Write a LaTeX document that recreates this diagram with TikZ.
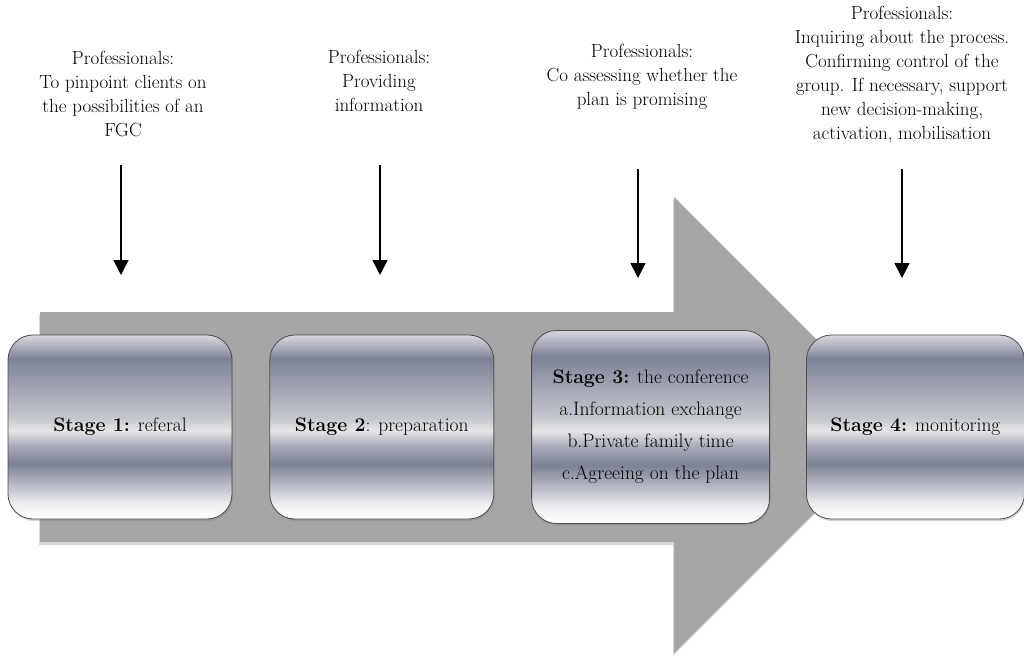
\documentclass[tikz,border=0pt]{standalone}
\usepackage{tikz}
\usetikzlibrary{positioning, arrows.meta, shadows}
\pgfdeclareverticalshading{metal}{100bp}{rgb(0bp)=(1,1,1); rgb(25bp)=(1,1,1);
    rgb(29bp)=(.94,.94,.95); rgb(40bp)=(.49,.51,.58); rgb(45bp)=(.66,.67,.72);
    rgb(49bp)=(.9,.9,.91); rgb(52.5bp)=(.77,.78,.8); rgb(68.5bp)=(.49,.51,.59);
    rgb(75bp)=(.85,.85,.87); rgb(100bp)=(.85,.85,.87)}
\definecolor{flowgray}{RGB}{166,166,166}
\tikzstyle{stage} = [rectangle, rounded corners=25pt, minimum width=224pt,
    minimum height=184pt, align=center, draw=black!70, line width=0.8pt,
    shading=metal, drop shadow={opacity=.35, shadow xshift=1pt, shadow yshift=-2pt},
font=\fontsize{19.5}{32}\selectfont]
\tikzstyle{note} = [align=center, font=\fontsize{19}{24}\selectfont]
\tikzstyle{arrow} = [line width=1.5pt, -{Triangle[width=15pt,length=15pt]}]

\begin{document}
\begin{tikzpicture}[x=1pt, y=-1pt]
            \useasboundingbox (0,0) rectangle (1024,660);
            % Flow arrow
            \fill[flowgray, drop shadow={opacity=.3, shadow xshift=-1pt,
            shadow yshift=-3pt}] (40,312) -- (674,312) -- (674,197) -- (902,425)
            -- (674,653) -- (674,542) -- (40,542) -- cycle;
            % Stages
            \node[stage] (st1) at (120,427) {\textbf{Stage 1:} referal};
            \node[stage, right=37pt of st1] (st2) {\textbf{Stage 2}: preparation};
            \node[stage, right=37pt of st2, minimum width=238pt,
            minimum height=193pt] (st3) {\textbf{Stage 3:} the conference\\
            a.Information exchange\\ b.Private family time\\ c.Agreeing on the plan};
            \node[stage, right=36pt of st3, minimum width=218pt] (st4)
            {\textbf{Stage 4:} monitoring};
            % Professionals
            \node[note] (n1) at (123,94) {Professionals:\\ To pinpoint clients on\\
            the possibilities of an\\ FGC};
            \node[note] (n2) at (379,81) {Professionals:\\ Providing\\ information};
            \node[note] (n3) at (642,77) {Professionals:\\ Co assessing whether the\\
            plan is promising};
            \node[note] (n4) at (902,75) {Professionals:\\ Inquiring about the process.\\
            Confirming control of the\\ group. If necessary, support\\
            new decision-making,\\ activation, mobilisation};
            % Arrows
            \coordinate (t1) at (121,165); \coordinate (h1) at (121,275);
            \coordinate (t2) at (380,165); \coordinate (h2) at (380,275);
            \coordinate (t3) at (638,169); \coordinate (h3) at (638,278);
            \coordinate (t4) at (902,169); \coordinate (h4) at (902,278);
            \draw[arrow] (t1) -- (h1);
            \draw[arrow] (t2) -- (h2);
            \draw[arrow] (t3) -- (h3);
            \draw[arrow] (t4) -- (h4);

        \end{tikzpicture}
\end{document}
